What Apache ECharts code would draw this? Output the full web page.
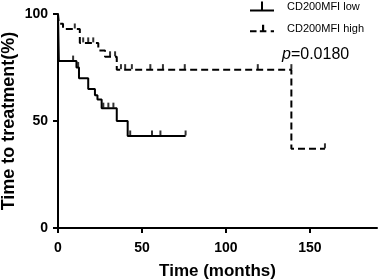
<!DOCTYPE html>
<html>
<head>
<meta charset="utf-8">
<script src="https://cdn.jsdelivr.net/npm/echarts@6/dist/echarts.min.js"></script>
<style>
  html, body { margin: 0; padding: 0; background: #fff; }
  #chart { width: 380px; height: 280px; }
</style>
</head>
<body>
<div id="chart"></div>
<script>
// Kaplan-Meier steps (time in months, % without treatment)
const lowTimes = [0, 0.5, 11, 12.5, 18, 22, 23.5, 26, 35, 41.5, 76];
const lowSurv = [100, 78, 75, 70, 65, 62, 60, 56, 50, 43, 43];
const lowCensorTimes = [9, 12, 27, 30, 33, 43, 56, 61, 76];
const lowCensorSurv = [78, 75, 56, 56, 56, 43, 43, 43, 43];

const highTimes = [0, 0.5, 3, 13, 24, 28, 35, 139, 159];
const highSurv = [100, 95.5, 93, 86.5, 83, 80, 74, 37, 37];
const highCensorTimes = [10, 15, 18, 21, 31, 34, 37.5, 40, 44, 55, 62.5, 75.5, 119, 139, 159];
const highCensorSurv = [93, 86.5, 86.5, 86.5, 80, 80, 74, 74, 74, 74, 74, 74, 74, 74, 37];

const xTicks = [0, 50, 100, 150];
const yTicks = [0, 50, 100];

const zip = (a, b) => a.map((v, i) => [v, b[i]]);

const chart = echarts.init(document.getElementById('chart'));

const axisCommon = {
  axisLine: { lineStyle: { color: '#000', width: 2 } },
  axisTick: { length: 5, inside: false, lineStyle: { color: '#000', width: 2 } },
  splitLine: { show: false },
  nameMoveOverlap: false,
  nameTextStyle: { color: '#000', fontFamily: 'Liberation Sans', fontWeight: 'bold', fontSize: 17 }
};

const tickMark = {
  type: 'scatter',
  symbol: 'rect',
  symbolSize: [2, 5],
  symbolOffset: [0, -3],
  itemStyle: { color: '#000' },
  silent: true,
  z: 3
};

const option = {
  animation: false,
  grid: { left: 58, top: 14, right: 3, bottom: 52, outerBoundsMode: 'none' },
  title: {
    text: '{i|p}=0.0180',
    left: 277,
    top: 42,
    textStyle: {
      fontFamily: 'Liberation Sans', fontWeight: 'normal', fontSize: 16, color: '#000',
      rich: { i: { fontFamily: 'Liberation Sans', fontStyle: 'italic', fontSize: 16, color: '#000' } }
    }
  },
  legend: {
    orient: 'vertical',
    left: 245,
    top: -4,
    itemWidth: 24,
    itemHeight: 10,
    itemGap: 11,
    textStyle: { fontFamily: 'Liberation Sans', fontSize: 11, color: '#000', padding: [0, 0, 0, 8] },
    data: [
      { name: 'CD200MFI low', icon: 'path://M0,8H24V10H0Z M11,0H13V8H11Z' },
      { name: 'CD200MFI high', icon: 'path://M0,8H6V10H0Z M9,8H15V10H9Z M11,3H13V8H11Z M19,8H22V10H19Z' }
    ]
  },
  xAxis: Object.assign({}, axisCommon, {
    type: 'value',
    min: 0,
    max: 190,
    name: 'Time (months)',
    nameLocation: 'middle',
    nameGap: 35,
    axisTick: Object.assign({}, axisCommon.axisTick, { customValues: xTicks }),
    axisLabel: { customValues: xTicks, margin: 13, color: '#000', fontFamily: 'Liberation Sans', fontWeight: 'bold', fontSize: 14 }
  }),
  yAxis: Object.assign({}, axisCommon, {
    type: 'value',
    min: 0,
    max: 100,
    interval: 50,
    name: 'Time to treatment(%)',
    nameLocation: 'middle',
    nameGap: 40,
    nameTextStyle: Object.assign({}, axisCommon.nameTextStyle, { fontSize: 18 }),
    axisTick: Object.assign({}, axisCommon.axisTick, { customValues: yTicks }),
    axisLabel: { customValues: yTicks, margin: 10, color: '#000', fontFamily: 'Liberation Sans', fontWeight: 'bold', fontSize: 14 }
  }),
  series: [
    {
      name: 'CD200MFI low',
      type: 'line',
      step: 'end',
      showSymbol: false,
      data: zip(lowTimes, lowSurv),
      lineStyle: { color: '#000', width: 2 },
      itemStyle: { color: '#000' },
      z: 2
    },
    Object.assign({}, tickMark, { name: 'CD200MFI low', data: zip(lowCensorTimes, lowCensorSurv) }),
    {
      name: 'CD200MFI high',
      type: 'line',
      step: 'end',
      showSymbol: false,
      data: zip(highTimes, highSurv),
      lineStyle: { color: '#000', width: 2, type: [7, 4] },
      itemStyle: { color: '#000' },
      z: 2
    },
    Object.assign({}, tickMark, { name: 'CD200MFI high', data: zip(highCensorTimes, highCensorSurv) })
  ]
};

chart.setOption(option);
</script>
</body>
</html>
